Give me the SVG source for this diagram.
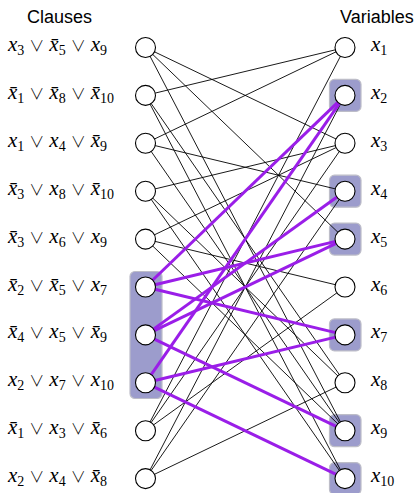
<svg xmlns="http://www.w3.org/2000/svg" width="419" height="493" viewBox="0 0 419 493">
<style>
.hdr { font-family: "Liberation Sans", "DejaVu Sans", sans-serif; font-size: 18px; fill: #000; }
.lab { font-family: "Liberation Serif", "Times New Roman", serif; font-size: 21px; font-style: italic; fill: #000; }
.sub { font-family: "Liberation Serif", serif; font-size: 14px; font-style: normal; }
.or { font-family: "Noto Sans CJK JP", "DejaVu Sans", sans-serif; font-weight: 300; font-size: 15px; font-style: normal; }
.e { stroke: #000; stroke-width: 0.9; fill: none; }
.p { stroke: #9a1ee8; stroke-width: 3; fill: none; }
.hl { fill: #9c9ccc; stroke: #bdbdc8; stroke-width: 1.2; }
.n { fill: #fff; stroke: #000; stroke-width: 1.1; }
</style>
<rect width="419" height="493" fill="#fff"/>
<text class="hdr" x="27" y="23">Clauses</text>
<text class="hdr" x="340" y="23">Variables</text>

<g id="highlights">
<rect class="hl" x="130" y="271.5" width="32" height="127" rx="5"/>
<rect class="hl" x="329.5" y="79.4" width="31.5" height="32" rx="5"/>
<rect class="hl" x="329.5" y="175.2" width="31.5" height="32" rx="5"/>
<rect class="hl" x="329.5" y="223.1" width="31.5" height="32" rx="5"/>
<rect class="hl" x="329.5" y="318.9" width="31.5" height="32" rx="5"/>
<rect class="hl" x="329.5" y="414.7" width="31.5" height="32" rx="5"/>
<rect class="hl" x="329.5" y="462.6" width="31.5" height="32" rx="5"/>
</g>

<g id="connectors">
<line class="e" x1="145.5" y1="47.5" x2="345" y2="143.3"/>
<line class="e" x1="145.5" y1="47.5" x2="345" y2="239.1"/>
<line class="e" x1="145.5" y1="47.5" x2="345" y2="430.7"/>
<line class="e" x1="145.5" y1="95.4" x2="345" y2="47.5"/>
<line class="e" x1="145.5" y1="95.4" x2="345" y2="382.8"/>
<line class="e" x1="145.5" y1="95.4" x2="345" y2="478.6"/>
<line class="e" x1="145.5" y1="143.3" x2="345" y2="47.5"/>
<line class="e" x1="145.5" y1="143.3" x2="345" y2="191.2"/>
<line class="e" x1="145.5" y1="143.3" x2="345" y2="430.7"/>
<line class="e" x1="145.5" y1="191.2" x2="345" y2="143.3"/>
<line class="e" x1="145.5" y1="191.2" x2="345" y2="382.8"/>
<line class="e" x1="145.5" y1="191.2" x2="345" y2="478.6"/>
<line class="e" x1="145.5" y1="239.1" x2="345" y2="143.3"/>
<line class="e" x1="145.5" y1="239.1" x2="345" y2="287.0"/>
<line class="e" x1="145.5" y1="239.1" x2="345" y2="430.7"/>
<line class="e" x1="145.5" y1="430.7" x2="345" y2="47.5"/>
<line class="e" x1="145.5" y1="430.7" x2="345" y2="143.3"/>
<line class="e" x1="145.5" y1="430.7" x2="345" y2="287.0"/>
<line class="e" x1="145.5" y1="478.6" x2="345" y2="95.4"/>
<line class="e" x1="145.5" y1="478.6" x2="345" y2="191.2"/>
<line class="e" x1="145.5" y1="478.6" x2="345" y2="382.8"/>
<line class="p" x1="145.5" y1="287.0" x2="345" y2="95.4"/>
<line class="p" x1="145.5" y1="287.0" x2="345" y2="239.1"/>
<line class="p" x1="145.5" y1="287.0" x2="345" y2="334.9"/>
<line class="p" x1="145.5" y1="334.9" x2="345" y2="191.2"/>
<line class="p" x1="145.5" y1="334.9" x2="345" y2="239.1"/>
<line class="p" x1="145.5" y1="334.9" x2="345" y2="430.7"/>
<line class="p" x1="145.5" y1="382.8" x2="345" y2="95.4"/>
<line class="p" x1="145.5" y1="382.8" x2="345" y2="334.9"/>
<line class="p" x1="145.5" y1="382.8" x2="345" y2="478.6"/>
</g>

<g id="c1"><circle class="n" cx="145.5" cy="47.5" r="10"/><text class="lab" x="8" y="51">x<tspan class="sub" dy="4">3</tspan><tspan class="or" dx="5" dy="-4">∨</tspan><tspan dx="5">x̄</tspan><tspan class="sub" dy="4">5</tspan><tspan class="or" dx="5" dy="-4">∨</tspan><tspan dx="5">x</tspan><tspan class="sub" dy="4">9</tspan></text></g>
<g id="c2"><circle class="n" cx="145.5" cy="95.4" r="10"/><text class="lab" x="8" y="98.9">x̄<tspan class="sub" dy="4">1</tspan><tspan class="or" dx="5" dy="-4">∨</tspan><tspan dx="5">x̄</tspan><tspan class="sub" dy="4">8</tspan><tspan class="or" dx="5" dy="-4">∨</tspan><tspan dx="5">x̄</tspan><tspan class="sub" dy="4">10</tspan></text></g>
<g id="c3"><circle class="n" cx="145.5" cy="143.3" r="10"/><text class="lab" x="8" y="146.8">x<tspan class="sub" dy="4">1</tspan><tspan class="or" dx="5" dy="-4">∨</tspan><tspan dx="5">x</tspan><tspan class="sub" dy="4">4</tspan><tspan class="or" dx="5" dy="-4">∨</tspan><tspan dx="5">x̄</tspan><tspan class="sub" dy="4">9</tspan></text></g>
<g id="c4"><circle class="n" cx="145.5" cy="191.2" r="10"/><text class="lab" x="8" y="194.7">x̄<tspan class="sub" dy="4">3</tspan><tspan class="or" dx="5" dy="-4">∨</tspan><tspan dx="5">x</tspan><tspan class="sub" dy="4">8</tspan><tspan class="or" dx="5" dy="-4">∨</tspan><tspan dx="5">x̄</tspan><tspan class="sub" dy="4">10</tspan></text></g>
<g id="c5"><circle class="n" cx="145.5" cy="239.1" r="10"/><text class="lab" x="8" y="242.6">x̄<tspan class="sub" dy="4">3</tspan><tspan class="or" dx="5" dy="-4">∨</tspan><tspan dx="5">x</tspan><tspan class="sub" dy="4">6</tspan><tspan class="or" dx="5" dy="-4">∨</tspan><tspan dx="5">x</tspan><tspan class="sub" dy="4">9</tspan></text></g>
<g id="c6"><circle class="n" cx="145.5" cy="287.0" r="10"/><text class="lab" x="8" y="290.5">x̄<tspan class="sub" dy="4">2</tspan><tspan class="or" dx="5" dy="-4">∨</tspan><tspan dx="5">x̄</tspan><tspan class="sub" dy="4">5</tspan><tspan class="or" dx="5" dy="-4">∨</tspan><tspan dx="5">x</tspan><tspan class="sub" dy="4">7</tspan></text></g>
<g id="c7"><circle class="n" cx="145.5" cy="334.9" r="10"/><text class="lab" x="8" y="338.4">x̄<tspan class="sub" dy="4">4</tspan><tspan class="or" dx="5" dy="-4">∨</tspan><tspan dx="5">x</tspan><tspan class="sub" dy="4">5</tspan><tspan class="or" dx="5" dy="-4">∨</tspan><tspan dx="5">x̄</tspan><tspan class="sub" dy="4">9</tspan></text></g>
<g id="c8"><circle class="n" cx="145.5" cy="382.8" r="10"/><text class="lab" x="8" y="386.3">x<tspan class="sub" dy="4">2</tspan><tspan class="or" dx="5" dy="-4">∨</tspan><tspan dx="5">x</tspan><tspan class="sub" dy="4">7</tspan><tspan class="or" dx="5" dy="-4">∨</tspan><tspan dx="5">x</tspan><tspan class="sub" dy="4">10</tspan></text></g>
<g id="c9"><circle class="n" cx="145.5" cy="430.7" r="10"/><text class="lab" x="8" y="434.2">x̄<tspan class="sub" dy="4">1</tspan><tspan class="or" dx="5" dy="-4">∨</tspan><tspan dx="5">x</tspan><tspan class="sub" dy="4">3</tspan><tspan class="or" dx="5" dy="-4">∨</tspan><tspan dx="5">x̄</tspan><tspan class="sub" dy="4">6</tspan></text></g>
<g id="c10"><circle class="n" cx="145.5" cy="478.6" r="10"/><text class="lab" x="8" y="482.1">x<tspan class="sub" dy="4">2</tspan><tspan class="or" dx="5" dy="-4">∨</tspan><tspan dx="5">x</tspan><tspan class="sub" dy="4">4</tspan><tspan class="or" dx="5" dy="-4">∨</tspan><tspan dx="5">x̄</tspan><tspan class="sub" dy="4">8</tspan></text></g>

<g id="v1"><circle class="n" cx="345" cy="47.5" r="10"/><text class="lab" x="371" y="51">x<tspan class="sub" dy="4">1</tspan></text></g>
<g id="v2"><circle class="n" cx="345" cy="95.4" r="10"/><text class="lab" x="371" y="98.9">x<tspan class="sub" dy="4">2</tspan></text></g>
<g id="v3"><circle class="n" cx="345" cy="143.3" r="10"/><text class="lab" x="371" y="146.8">x<tspan class="sub" dy="4">3</tspan></text></g>
<g id="v4"><circle class="n" cx="345" cy="191.2" r="10"/><text class="lab" x="371" y="194.7">x<tspan class="sub" dy="4">4</tspan></text></g>
<g id="v5"><circle class="n" cx="345" cy="239.1" r="10"/><text class="lab" x="371" y="242.6">x<tspan class="sub" dy="4">5</tspan></text></g>
<g id="v6"><circle class="n" cx="345" cy="287.0" r="10"/><text class="lab" x="371" y="290.5">x<tspan class="sub" dy="4">6</tspan></text></g>
<g id="v7"><circle class="n" cx="345" cy="334.9" r="10"/><text class="lab" x="371" y="338.4">x<tspan class="sub" dy="4">7</tspan></text></g>
<g id="v8"><circle class="n" cx="345" cy="382.8" r="10"/><text class="lab" x="371" y="386.3">x<tspan class="sub" dy="4">8</tspan></text></g>
<g id="v9"><circle class="n" cx="345" cy="430.7" r="10"/><text class="lab" x="371" y="434.2">x<tspan class="sub" dy="4">9</tspan></text></g>
<g id="v10"><circle class="n" cx="345" cy="478.6" r="10"/><text class="lab" x="371" y="482.1">x<tspan class="sub" dy="4">10</tspan></text></g>
</svg>
